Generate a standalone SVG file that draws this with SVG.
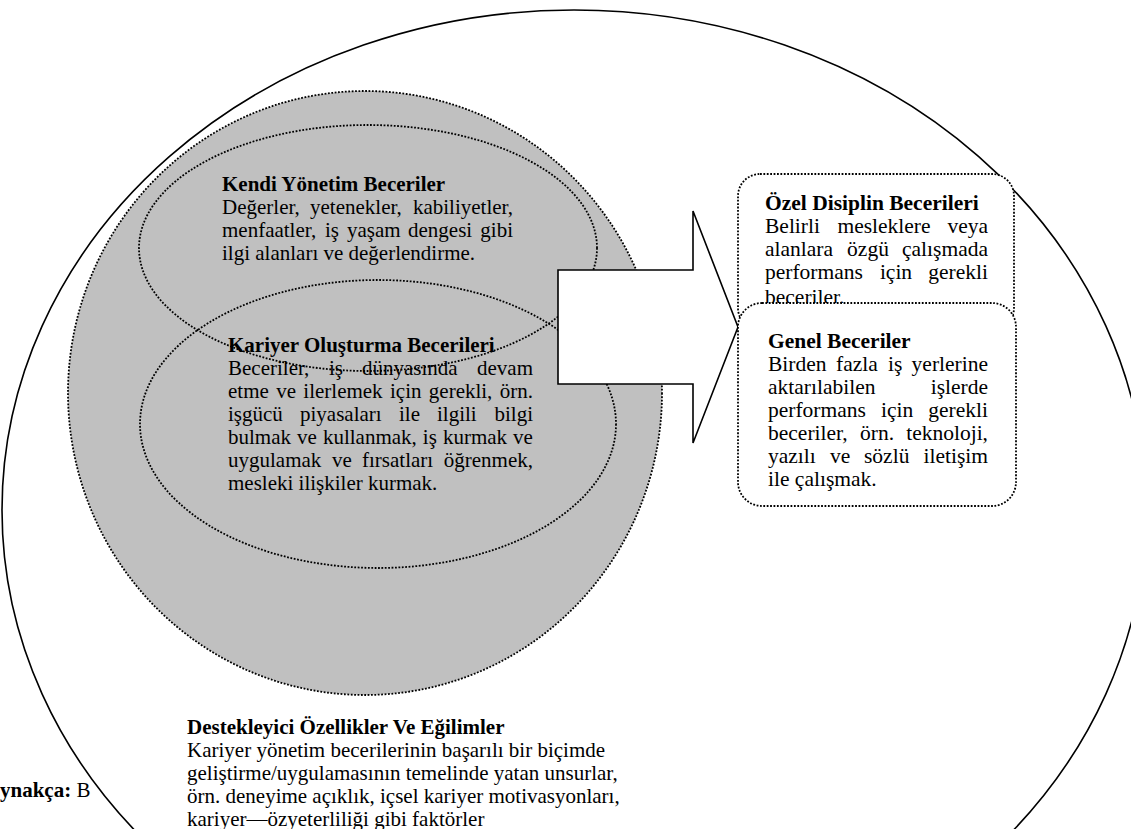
<svg xmlns="http://www.w3.org/2000/svg" width="1131" height="829" viewBox="0 0 1131 829">
  <style>
    .t { font-family: "Liberation Serif", "Times New Roman", serif; font-size: 21px; fill: #000; }
    .r { font-size: 21.5px; }
    .b { font-weight: bold; }
    .e { text-anchor: end; }
    .m { text-anchor: middle; }
    .dot { stroke: #000; stroke-width: 1.8; stroke-dasharray: 1.8 1.6; }
    .none { fill: none; }
    .white { fill: #fff; }
    .gray { fill: #c0c0c0; }
    .solid { stroke: #000; stroke-width: 1.6; }
  </style>
  <rect width="1131" height="829" fill="#fff"/>

  <g id="kaynakca">
    <text class="t" x="0" y="797"><tspan class="b">ynakça:</tspan> B</text>
  </g>

  <g id="destekleyici">
    <ellipse class="solid white" cx="574" cy="510" rx="572" ry="500"/>
    <text class="t b" x="187" y="734">Destekleyici Özellikler Ve Eğilimler</text>
    <text class="t" x="187" y="757">Kariyer yönetim becerilerinin başarılı bir biçimde</text>
    <text class="t" x="187" y="780">geliştirme/uygulamasının temelinde yatan unsurlar,</text>
    <text class="t" x="187" y="803">örn. deneyime açıklık, içsel kariyer motivasyonları,</text>
    <text class="t" x="187" y="826">kariyer—özyeterliliği gibi faktörler</text>
  </g>

  <g id="kariyer-yonetim">
    <ellipse class="dot gray" cx="365" cy="393" rx="297" ry="302"/>
  </g>

  <g id="kendi-yonetim">
    <text class="t b" x="222" y="191">Kendi Yönetim Beceriler</text>
    <text class="t" x="222" y="214">Değerler,</text>
    <text class="t" x="310" y="214">yetenekler,</text>
    <text class="t e" x="513" y="214">kabiliyetler,</text>
    <text class="t" x="222" y="237">menfaatler,</text>
    <text class="t" x="325" y="237">iş</text>
    <text class="t" x="347" y="237">yaşam</text>
    <text class="t" x="408" y="237">dengesi</text>
    <text class="t e" x="513" y="237">gibi</text>
    <text class="t" x="222" y="260">ilgi alanları ve değerlendirme.</text>
    <ellipse class="dot none" cx="368" cy="248" rx="229" ry="123"/>
  </g>

  <g id="kariyer-olusturma">
    <text class="t b" x="228" y="352">Kariyer Oluşturma Becerileri</text>
    <text class="t" x="228" y="375">Beceriler,</text>
    <text class="t" x="329" y="375">iş</text>
    <text class="t" x="362" y="375">dünyasında</text>
    <text class="t e" x="533" y="375">devam</text>
    <text class="t" x="228" y="398" word-spacing="2.1">etme ve ilerlemek için gerekli, örn.</text>
    <text class="t" x="228" y="421">işgücü</text>
    <text class="t" x="300" y="421">piyasaları</text>
    <text class="t" x="399" y="421">ile</text>
    <text class="t" x="437" y="421">ilgili</text>
    <text class="t e" x="533" y="421">bilgi</text>
    <text class="t" x="228" y="444" word-spacing="0.8">bulmak ve kullanmak, iş kurmak ve</text>
    <text class="t" x="228" y="467">uygulamak</text>
    <text class="t" x="332" y="467">ve</text>
    <text class="t" x="362" y="467">fırsatları</text>
    <text class="t e" x="533" y="467">öğrenmek,</text>
    <text class="t" x="228" y="490">mesleki ilişkiler kurmak.</text>
    <ellipse class="dot none" cx="378" cy="424" rx="238" ry="144"/>
  </g>

  <g id="connectors">
    <path class="solid white" d="M558,270 L693,270 L693,211 L738,327 L693,443 L693,384 L558,384 Z"/>
  </g>

  <g id="ozel-disiplin">
    <rect class="dot white" x="738" y="174" width="276" height="156" rx="22"/>
    <text class="t r b" x="765" y="210">Özel Disiplin Becerileri</text>
    <text class="t r" x="765" y="233">Belirli</text>
    <text class="t r m" x="884" y="233">mesleklere</text>
    <text class="t r e" x="988" y="233">veya</text>
    <text class="t r" x="765" y="256">alanlara</text>
    <text class="t r m" x="868" y="256">özgü</text>
    <text class="t r e" x="988" y="256">çalışmada</text>
    <text class="t r" x="765" y="279">performans</text>
    <text class="t r m" x="896" y="279">için</text>
    <text class="t r e" x="988" y="279">gerekli</text>
    <text class="t r" x="765" y="304">beceriler.</text>
  </g>

  <g id="genel">
    <rect class="dot white" x="738" y="303" width="278" height="203" rx="24"/>
    <text class="t r b" x="768" y="348">Genel Beceriler</text>
    <text class="t r" x="768" y="371">Birden</text>
    <text class="t r" x="836" y="371">fazla</text>
    <text class="t r" x="888" y="371">iş</text>
    <text class="t r e" x="988" y="371">yerlerine</text>
    <text class="t r" x="768" y="394">aktarılabilen</text>
    <text class="t r e" x="988" y="394">işlerde</text>
    <text class="t r" x="768" y="417">performans</text>
    <text class="t r" x="881" y="417">için</text>
    <text class="t r e" x="988" y="417">gerekli</text>
    <text class="t r" x="768" y="440">beceriler,</text>
    <text class="t r" x="860" y="440">örn.</text>
    <text class="t r e" x="988" y="440">teknoloji,</text>
    <text class="t r" x="768" y="463">yazılı</text>
    <text class="t r" x="830" y="463">ve</text>
    <text class="t r" x="864" y="463">sözlü</text>
    <text class="t r e" x="988" y="463">iletişim</text>
    <text class="t r" x="768" y="486">ile çalışmak.</text>
  </g>
</svg>
